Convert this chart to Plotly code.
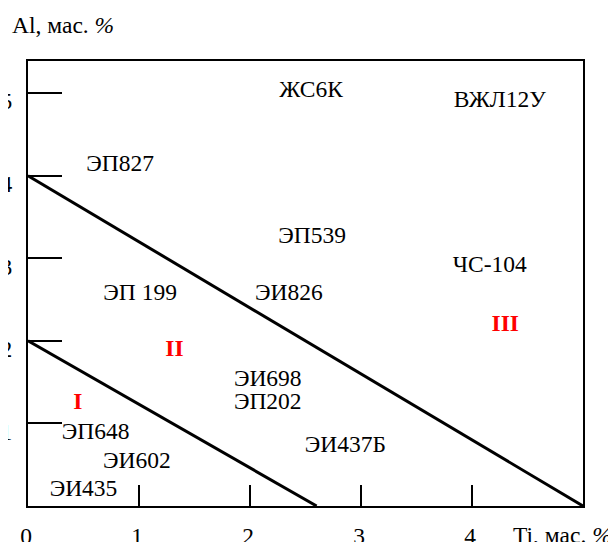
import plotly.graph_objects as go

# Data
alloy_names = ["ЖС6К", "ВЖЛ12У", "ЭП827", "ЭП539", "ЧС-104", "ЭП 199", "ЭИ826",
               "ЭИ698", "ЭП202", "ЭП648", "ЭИ437Б", "ЭИ602", "ЭИ435"]
alloy_ti = [2.55, 4.25, 0.83, 2.56, 4.16, 1.01, 2.35, 2.16, 2.16, 0.61, 2.86, 0.98, 0.50]
alloy_al = [5.02, 4.91, 4.13, 3.26, 2.90, 2.57, 2.57, 1.52, 1.25, 0.88, 0.72, 0.53, 0.19]

zone_names = ["I", "II", "III"]
zone_ti = [0.45, 1.32, 4.30]
zone_al = [1.25, 1.89, 2.19]

boundary1_ti = [0, 2.6]
boundary1_al = [2, 0]
boundary2_ti = [0, 5]
boundary2_al = [4, 0]

x_ticks = [0, 1, 2, 3, 4]
y_ticks = [1, 2, 3, 4, 5]

FONT = "Liberation Serif"
FS = 23.5

fig = go.Figure()
fig.add_trace(go.Scatter(x=boundary1_ti, y=boundary1_al, mode="lines",
                         line=dict(color="black", width=3), hoverinfo="skip"))
fig.add_trace(go.Scatter(x=boundary2_ti, y=boundary2_al, mode="lines",
                         line=dict(color="black", width=3), hoverinfo="skip"))
fig.add_trace(go.Scatter(x=alloy_ti, y=alloy_al, mode="text", text=alloy_names,
                         textposition="middle center",
                         textfont=dict(family=FONT, size=FS, color="black"),
                         cliponaxis=False))
fig.add_trace(go.Scatter(x=zone_ti, y=zone_al, mode="text",
                         text=["<b>" + z + "</b>" for z in zone_names],
                         textposition="middle center",
                         textfont=dict(family=FONT, size=FS, color="#ff0000"),
                         cliponaxis=False))

fig.add_annotation(x=-0.0324, y=1.081, xref="paper", yref="paper", text="Al, мас. <i>%</i>",
                   showarrow=False, xanchor="left", yanchor="middle",
                   font=dict(family=FONT, size=FS, color="black"))
fig.add_annotation(x=0.870, y=-0.065, xref="paper", yref="paper", text="Ti, мас. <i>%</i>",
                   showarrow=False, xanchor="left", yanchor="middle",
                   font=dict(family=FONT, size=FS, color="black"))

fig.update_layout(
    template="none",
    font=dict(family=FONT, size=FS, color="black"),
    width=608, height=534,
    margin=dict(l=20, r=33, t=53, b=36, autoexpand=False),
    plot_bgcolor="white", paper_bgcolor="white",
    showlegend=False,
)
fig.update_xaxes(range=[0, 5], tickvals=x_ticks, ticktext=[str(v) for v in x_ticks],
                 ticks="inside", ticklen=21, tickwidth=2, tickcolor="black",
                 showline=True, linewidth=2, linecolor="black", mirror=True,
                 showgrid=False, zeroline=False, automargin=False,
                 tickfont=dict(family=FONT, size=FS, color="black"),
                 ticklabelstandoff=8, ticklabelshift=-2)
fig.update_yaxes(range=[0, 5.39], tickvals=y_ticks, ticktext=[str(v) for v in y_ticks],
                 ticks="inside", ticklen=34, tickwidth=1.5, tickcolor="black",
                 showline=True, linewidth=2, linecolor="black", mirror=True,
                 showgrid=False, zeroline=False, automargin=False,
                 tickfont=dict(family=FONT, size=FS, color="black"),
                 ticklabelstandoff=9, ticklabelshift=8)

fig.write_html("out.html")
